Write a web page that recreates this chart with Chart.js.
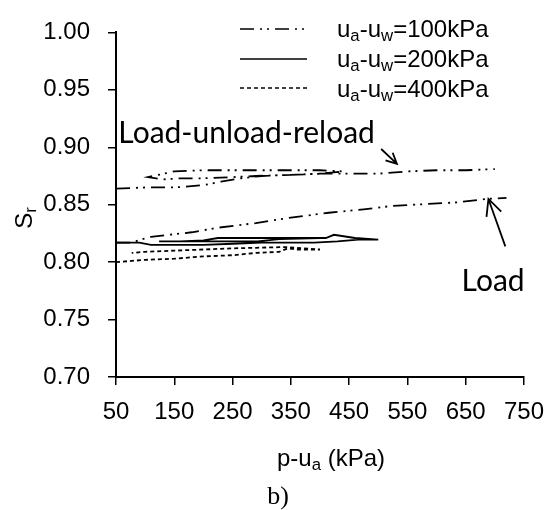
<!DOCTYPE html>
<html><head><meta charset="utf-8">
<script src="https://cdn.jsdelivr.net/npm/chart.js@4.4.0/dist/chart.umd.min.js"></script>
<style>html,body{margin:0;padding:0;background:#fff;} #c{display:block;}</style>
</head><body>
<canvas id="c" width="557" height="510"></canvas>
<script>
// ---- data ----
const xTicks = [50, 150, 250, 350, 450, 550, 650, 750];
const yTicks = [0.70, 0.75, 0.80, 0.85, 0.90, 0.95, 1.00];

// ua-uw = 100 kPa, load-unload-reload test (upper curve)
const p100LUR = [50, 100, 150, 200, 230, 265, 300, 350, 400, 440, 400, 350, 300, 250, 200, 150, 105, 130, 160, 200, 250, 290, 350, 400, 450, 500, 550, 600, 650, 700];
const s100LUR = [0.864, 0.865, 0.865, 0.867, 0.870, 0.873, 0.875, 0.876, 0.877, 0.879, 0.880, 0.880, 0.880, 0.880, 0.880, 0.879, 0.874, 0.872, 0.873, 0.873, 0.874, 0.875, 0.876, 0.877, 0.877, 0.877, 0.879, 0.880, 0.880, 0.881];

// ua-uw = 100 kPa, load test (lower curve)
const p100L = [50, 75, 110, 180, 225, 290, 340, 415, 475, 525, 635, 685, 720];
const s100L = [0.817, 0.817, 0.822, 0.826, 0.830, 0.834, 0.838, 0.843, 0.846, 0.849, 0.852, 0.855, 0.856];

// ua-uw = 200 kPa
const p200 = [50, 90, 110, 200, 250, 300, 390, 430, 466, 500, 460, 424, 410, 300, 225, 200, 160, 124, 200, 250, 293, 330, 400];
const s200 = [0.817, 0.817, 0.815, 0.815, 0.816, 0.817, 0.817, 0.818, 0.8196, 0.8196, 0.821, 0.8238, 0.821, 0.821, 0.821, 0.819, 0.818, 0.818, 0.8182, 0.818, 0.818, 0.820, 0.821];

// ua-uw = 400 kPa
const p400 = [50, 100, 150, 200, 250, 290, 330, 345, 360, 400, 345, 330, 290, 250, 200, 150, 100, 77];
const s400 = [0.800, 0.802, 0.803, 0.805, 0.806, 0.808, 0.809, 0.812, 0.811, 0.811, 0.813, 0.813, 0.8125, 0.812, 0.811, 0.810, 0.809, 0.808];

const legendLabels = ['100kPa', '200kPa', '400kPa'];

// ---- styles ----
const DASHDOT = [14, 6, 2, 5, 2, 6];
const DASHED = [4, 3];
const SANS = '"Liberation Sans", Arial, sans-serif';
const CAL = 'Lato, "Open Sans", sans-serif';
const SERIF = '"Liberation Serif", "Times New Roman", serif';
const FS = 24;

function pts(xs, ys) { return xs.map((x, i) => ({ x: x, y: ys[i] })); }

function richWidth(ctx, parts, size, family) {
  let w = 0;
  for (const p of parts) {
    ctx.font = (p.sub ? size * 0.7 : size) + 'px ' + family;
    w += ctx.measureText(p.t).width;
  }
  return w;
}
function drawRich(ctx, parts, x, y, size, family, align) {
  const w = richWidth(ctx, parts, size, family);
  let cx = align === 'center' ? x - w / 2 : (align === 'right' ? x - w : x);
  ctx.textAlign = 'left';
  ctx.textBaseline = 'alphabetic';
  for (const p of parts) {
    ctx.font = (p.sub ? size * 0.7 : size) + 'px ' + family;
    ctx.fillText(p.t, cx, p.sub ? y + size * 0.18 : y);
    cx += ctx.measureText(p.t).width;
  }
}
function arrow(ctx, x1, y1, x2, y2, head) {
  const a = Math.atan2(y2 - y1, x2 - x1);
  ctx.beginPath();
  ctx.moveTo(x1, y1); ctx.lineTo(x2, y2);
  ctx.moveTo(x2 - head * Math.cos(a - 0.45), y2 - head * Math.sin(a - 0.45));
  ctx.lineTo(x2, y2);
  ctx.lineTo(x2 - head * Math.cos(a + 0.45), y2 - head * Math.sin(a + 0.45));
  ctx.stroke();
}

const overlay = {
  id: 'overlay',
  afterDraw(chart) {
    const ctx = chart.ctx;
    const X = chart.scales.x, Y = chart.scales.y;
    const px = v => X.getPixelForValue(v), py = v => Y.getPixelForValue(v);
    ctx.save();
    ctx.fillStyle = '#000';
    ctx.strokeStyle = '#000';
    ctx.setLineDash([]);

    // annotations
    ctx.font = '30px ' + CAL;
    ctx.textAlign = 'left';
    ctx.textBaseline = 'alphabetic';
    ctx.fillText('Load-unload-reload', px(54), py(0.9035));
    ctx.textAlign = 'center';
    ctx.fillText('Load', px(697), py(0.775));
    ctx.lineWidth = 1.8;
    arrow(ctx, px(505), py(0.8985), px(532), py(0.8855), 12);
    arrow(ctx, px(718), py(0.8137), px(689), py(0.855), 18);

    // legend text box (white, covers the top of the annotation's last word)
    ctx.fillStyle = '#fff';
    ctx.fillRect(290, 6, 230, 114);
    ctx.fillStyle = '#000';

    // legend
    const rowsLine = [29, 59, 88];
    const rowsText = [37, 67, 97];
    const dashes = [DASHDOT, [], DASHED];
    ctx.lineWidth = 1.6;
    for (let i = 0; i < 3; i++) {
      ctx.setLineDash(dashes[i]);
      ctx.beginPath();
      ctx.moveTo(240, rowsLine[i]); ctx.lineTo(307, rowsLine[i]);
      ctx.stroke();
      ctx.setLineDash([]);
      drawRich(ctx, [{ t: 'u' }, { t: 'a', sub: true }, { t: '-u' }, { t: 'w', sub: true }, { t: '=' + legendLabels[i] }], 337, rowsText[i], FS, SANS, 'left');
    }

    // axis titles
    drawRich(ctx, [{ t: 'p-u' }, { t: 'a', sub: true }, { t: ' (kPa)' }], 331, 466, FS, SANS, 'center');
    ctx.save();
    ctx.translate(32, 218);
    ctx.rotate(-Math.PI / 2);
    drawRich(ctx, [{ t: 'S' }, { t: 'r', sub: true }], 0, 0, FS, SANS, 'center');
    ctx.restore();

    ctx.font = '26px ' + SERIF;
    ctx.textAlign = 'center';
    ctx.fillText('b)', 278, 504);
    ctx.restore();
  }
};

const common = { showLine: true, pointRadius: 0, borderColor: '#000', borderWidth: 1.8, tension: 0, fill: false };

new Chart(document.getElementById('c'), {
  type: 'scatter',
  data: {
    datasets: [
      Object.assign({ label: 'LUR100', data: pts(p100LUR, s100LUR), borderDash: DASHDOT }, common),
      Object.assign({ label: 'L100', data: pts(p100L, s100L), borderDash: DASHDOT }, common),
      Object.assign({ label: '200', data: pts(p200, s200) }, common),
      Object.assign({ label: '400', data: pts(p400, s400), borderDash: DASHED }, common)
    ]
  },
  options: {
    responsive: false,
    animation: false,
    devicePixelRatio: 1,
    layout: { padding: { left: 0, right: 26, top: 21, bottom: 0 } },
    plugins: { legend: { display: false }, tooltip: { enabled: false } },
    scales: {
      x: {
        type: 'linear', min: xTicks[0], max: xTicks[xTicks.length - 1],
        afterBuildTicks: s => { s.ticks = xTicks.map(v => ({ value: v })); },
        afterFit: s => { s.height = 133; },
        ticks: { color: '#000', font: { family: SANS, size: FS }, padding: 13, maxRotation: 0, autoSkip: false },
        grid: { drawOnChartArea: false, drawTicks: true, tickLength: 8, color: '#000', lineWidth: 1.5 },
        border: { display: true, color: '#000', width: 2 }
      },
      y: {
        type: 'linear', min: yTicks[0], max: yTicks[yTicks.length - 1],
        afterBuildTicks: s => { s.ticks = yTicks.map(v => ({ value: v })); },
        afterFit: s => { s.width = 116; },
        ticks: { color: '#000', font: { family: SANS, size: FS }, padding: 18, callback: v => Number(v).toFixed(2), autoSkip: false },
        grid: { drawOnChartArea: false, drawTicks: true, tickLength: 8, color: '#000', lineWidth: 1.5 },
        border: { display: true, color: '#000', width: 2 }
      }
    }
  },
  plugins: [overlay]
});
</script>
</body></html>
